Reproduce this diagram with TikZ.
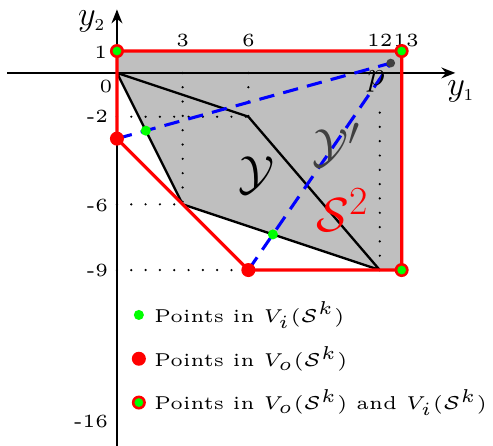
\documentclass[tikz,border=0pt]{standalone}
\usepackage{amsmath}
\usetikzlibrary{arrows.meta}

\begin{document}
\begin{tikzpicture}[x=0.5cm,y=0.5cm,
        lbl/.style={font=\tiny,scale=2.42,inner sep=1pt},
        axislbl/.style={font=\Large,scale=1.55,inner sep=0pt},
        biglbl/.style={font=\Huge,scale=1.25},
        guide/.style={line width=1.6pt,line cap=round,dash pattern=on 0pt off 9.3pt},
        ray/.style={blue,line width=2pt,dash pattern=on 10pt off 6pt}]
        \useasboundingbox (-5.34,-16.99) rectangle (17.17,3.33);

        % === POINTS ===
        \coordinate (O) at (0,0);
        \coordinate (Y1) at (6,-2);
        \coordinate (Y2) at (12,-9);
        \coordinate (Y3) at (3,-6);
        \coordinate (S1) at (0,1);
        \coordinate (S2) at (13,1);
        \coordinate (S3) at (13,-9);
        \coordinate (S4) at (6,-9);
        \coordinate (S5) at (0,-3);
        \coordinate (P) at (12.5,0.45);

        % === REGION ===
        \fill[lightgray] (S1) -- (S2) -- (S3) -- (Y2) -- (Y3) -- (O) -- cycle;

        % === GUIDES ===
        \draw[guide] (0,-2) -- (Y1);
        \draw[guide] (0,-6) -- (Y3);
        \draw[guide] (0,-9) -- (S4);
        \draw[guide] (3,0) -- (Y3);
        \draw[guide] (6,0) -- (Y1);
        \draw[guide] (Y2) -- (12,-1.4);

        % === AXIS ===
        \draw[-{Stealth[length=9pt,width=7pt]},line width=1.7pt] (-5,0) -- (15.45,0);
        \draw[-{Stealth[length=9pt,width=7pt]},line width=1.7pt] (0,-17.2) -- (0,2.9);
        \node[axislbl] (ya) at (15.7,-0.85) {$y_{\scriptscriptstyle 1}$};
        \node[axislbl] (yb) at (-1.15,2.35) {$y_{\scriptscriptstyle 2}$};

        % === TICKS ===
        \node[lbl] (t3) at (3,1.5) {3};
        \node[lbl] (t6) at (6,1.5) {6};
        \node[lbl] (t12) at (12,1.5) {12};
        \node[lbl] (t13) at (13.2,1.5) {13};
        \node[lbl,anchor=east] (t1) at (-0.25,0.96) {1};
        \node[lbl] (t0) at (-0.5,-0.64) {0};
        \node[lbl,anchor=east] (tm2) at (-0.2,-2) {-2};
        \node[lbl,anchor=east] (tm6) at (-0.2,-6.05) {-6};
        \node[lbl,anchor=east] (tm9) at (-0.2,-9) {-9};
        \node[lbl,anchor=east] (tm16) at (-0.2,-15.9) {-16};

        % === SET Y ===
        \draw[line width=1.5pt,line join=round] (O) -- (Y1) -- (Y2) -- (Y3) -- cycle;

        % === SET S2 ===
        \draw[red,line width=2.1pt,line join=round] (S1) -- (S2) -- (S3) -- (S4) -- (S5) -- cycle;

        % === RAYS TO P ===
        \draw[ray] (S5) -- (P);
        \draw[ray] (S4) -- (P);

        % === VERTICES ===
        \fill[red] (S5) circle (0.32);
        \fill[red] (S4) circle (0.32);
        \foreach \v in {S1,S2,S3} {
            \fill[red] (\v) circle (0.32);
            \fill[green] (\v) circle (0.2);
        }
        \fill[green] (intersection of S5--P and O--Y3) circle (0.23);
        \fill[green] (intersection of S4--P and Y3--Y2) circle (0.23);
        \fill[darkgray] (P) circle (0.2);

        % === LABELS ===
        \node[axislbl] (plbl) at (11.83,-0.41) {$p$};
        \node[biglbl] (ylbl) at (6.39,-4.66) {$\mathcal{Y}$};
        \node[biglbl,darkgray] (yplbl) at (10.03,-3.29) {$\mathcal{Y}'$};
        \node[biglbl,red] (slbl) at (10.3,-6.26) {$\mathcal{S}^2$};

        % === LEGEND ===
        \fill[green] (1,-11.05) circle (0.23);
        \node[lbl,anchor=west] (leg1) at (1.5,-11.05) {Points in $V_i(\mathcal{S}^k)$};
        \fill[red] (1,-13.05) circle (0.32);
        \node[lbl,anchor=west] (leg2) at (1.5,-13.05) {Points in $V_o(\mathcal{S}^k)$};
        \fill[red] (1,-15.05) circle (0.32);
        \fill[green] (1,-15.05) circle (0.2);
        \node[lbl,anchor=west] (leg3) at (1.5,-15.05) {Points in $V_o(\mathcal{S}^k)$ and $V_i(\mathcal{S}^k)$};

    \end{tikzpicture}
\end{document}
